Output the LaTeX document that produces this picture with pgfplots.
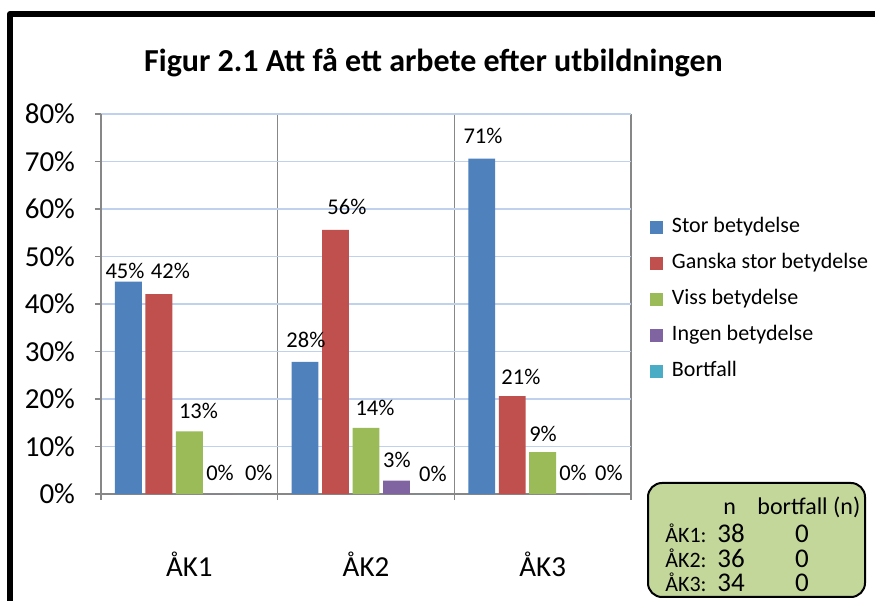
\documentclass[border=0pt]{standalone}
\usepackage{fontspec}
\setmainfont{Carlito}
\usepackage{pgfplots}
\pgfplotsset{compat=1.18}

\definecolor{sblue}{HTML}{4F81BD}
\definecolor{sred}{HTML}{C0504D}
\definecolor{sgreen}{HTML}{9BBB59}
\definecolor{spurple}{HTML}{8064A2}
\definecolor{scyan}{HTML}{4BACC6}
\definecolor{axgray}{HTML}{878787}
\definecolor{gridblue}{RGB}{192,209,238}
\definecolor{boxgreen}{HTML}{C4D79B}

% one bar series: colour, shift in category units
\pgfplotsset{
  mybar/.style={ybar, bar width=0.152, bar shift=#1, draw=none,
    legend image code/.code={\fill[##1] (0pt,-3.25pt) rectangle (6.5pt,3.25pt);}},
}
\tikzset{lab/.style={font=\fontsize{11.25}{13}\selectfont, inner sep=0pt}}

\begin{document}
\begin{tikzpicture}
\useasboundingbox (0,0) rectangle (437.5pt,300.5pt);
\fill[white] (0,0) rectangle (437.5pt,300.5pt);

\begin{axis}[
  at={(50.5pt,53.5pt)}, anchor=south west,
  scale only axis, width=265pt, height=190pt,
  xmin=-0.5, xmax=2.5, ymin=0, ymax=80,
  axis x line*=bottom, axis y line*=left,
  axis line style={-, draw=axgray, line width=0.7pt},
  xtick={-0.5,0.5,1.5,2.5}, xticklabels={},
  extra x ticks={0,1,2}, extra x tick labels={ÅK1,ÅK2,ÅK3},
  extra x tick style={major tick length=0pt, grid=none,
    xticklabel style={anchor=base, yshift=-41pt}},
  ytick={0,10,...,80},
  yticklabels={0\%,10\%,20\%,30\%,40\%,50\%,60\%,70\%,80\%},
  tick align=outside, major tick length=3pt,
  tick style={draw=axgray, line width=0.7pt},
  tick label style={font=\fontsize{14.5}{16}\selectfont},
  yticklabel style={xshift=-6.5pt},
  xmajorgrids, ymajorgrids,
  every axis x grid/.style={draw=axgray, line width=0.7pt},
  every axis y grid/.style={draw=gridblue, line width=0.7pt},
  legend style={at={(1.0358,0.731)}, anchor=north west, draw=none, fill=none,
    inner sep=0pt, font=\fontsize{11}{13}\selectfont, row sep=7.5pt,
    nodes={inner sep=0pt, text height=8pt, text depth=2.5pt},
    /tikz/every odd column/.append style={column sep=4.3pt}},
  legend cell align=left,
]
\addplot[mybar=-0.345, fill=sblue]   coordinates {(0,44.7) (1,27.8) (2,70.6)};
\addplot[mybar=-0.1725, fill=sred]   coordinates {(0,42.1) (1,55.6) (2,20.6)};
\addplot[mybar=0, fill=sgreen]       coordinates {(0,13.2) (1,13.9) (2,8.8)};
\addplot[mybar=0.1725, fill=spurple] coordinates {(0,0) (1,2.8) (2,0)};
\addplot[mybar=0.345, fill=scyan]    coordinates {(0,0) (1,0) (2,0)};
\legend{Stor betydelse, Ganska stor betydelse, Viss betydelse, Ingen betydelse, Bortfall}

% data labels
\node[lab] at (axis cs:-0.364,46.95) {45\%};
\node[lab] at (axis cs:-0.107,46.95) {42\%};
\node[lab] at (axis cs:0.052,17.58) {13\%};
\node[lab] at (axis cs:0.174,4.42) {0\%};
\node[lab] at (axis cs:0.393,4.42) {0\%};
\node[lab] at (axis cs:0.660,32.42) {28\%};
\node[lab] at (axis cs:0.892,60.53) {56\%};
\node[lab] at (axis cs:1.051,18.11) {14\%};
\node[lab] at (axis cs:1.175,7.16) {3\%};
\node[lab] at (axis cs:1.379,4.21) {0\%};
\node[lab] at (axis cs:1.662,75.37) {71\%};
\node[lab] at (axis cs:1.877,24.74) {21\%};
\node[lab] at (axis cs:2.002,12.74) {9\%};
\node[lab] at (axis cs:2.172,4.53) {0\%};
\node[lab] at (axis cs:2.375,4.53) {0\%};
\end{axis}

% frame, title and the n-box, in pixel units from the top left
\begin{scope}[x=0.5pt, y=-0.5pt, yshift=300.5pt]
\draw[line width=3pt, line join=round] (10,601) -- (10,14) -- (875,14);
\node[anchor=base, inner sep=0pt, font=\bfseries\fontsize{16}{19}\selectfont]
  at (433.5,72) {Figur 2.1 Att få ett arbete efter utbildningen};
\draw[fill=boxgreen, line width=1pt, rounded corners=7pt] (648,483) rectangle (865,597);
\begin{scope}[every node/.style={inner sep=0pt, anchor=base west}]
\node[font=\fontsize{12}{14}\selectfont] at (723,515) {n};
\node[font=\fontsize{12}{14}\selectfont] at (757,515) {bortfall (n)};
\node[font=\fontsize{11}{13}\selectfont] at (665,543) {ÅK1:};
\node[font=\fontsize{11}{13}\selectfont] at (665,568) {ÅK2:};
\node[font=\fontsize{11}{13}\selectfont] at (665,592) {ÅK3:};
\node[font=\fontsize{13.5}{15}\selectfont] at (717,543) {38};
\node[font=\fontsize{13.5}{15}\selectfont] at (717,568) {36};
\node[font=\fontsize{13.5}{15}\selectfont] at (717,592) {34};
\node[font=\fontsize{13.5}{15}\selectfont, anchor=base] at (802,543) {0};
\node[font=\fontsize{13.5}{15}\selectfont, anchor=base] at (802,568) {0};
\node[font=\fontsize{13.5}{15}\selectfont, anchor=base] at (802,592) {0};
\end{scope}
\end{scope}
\end{tikzpicture}
\end{document}
